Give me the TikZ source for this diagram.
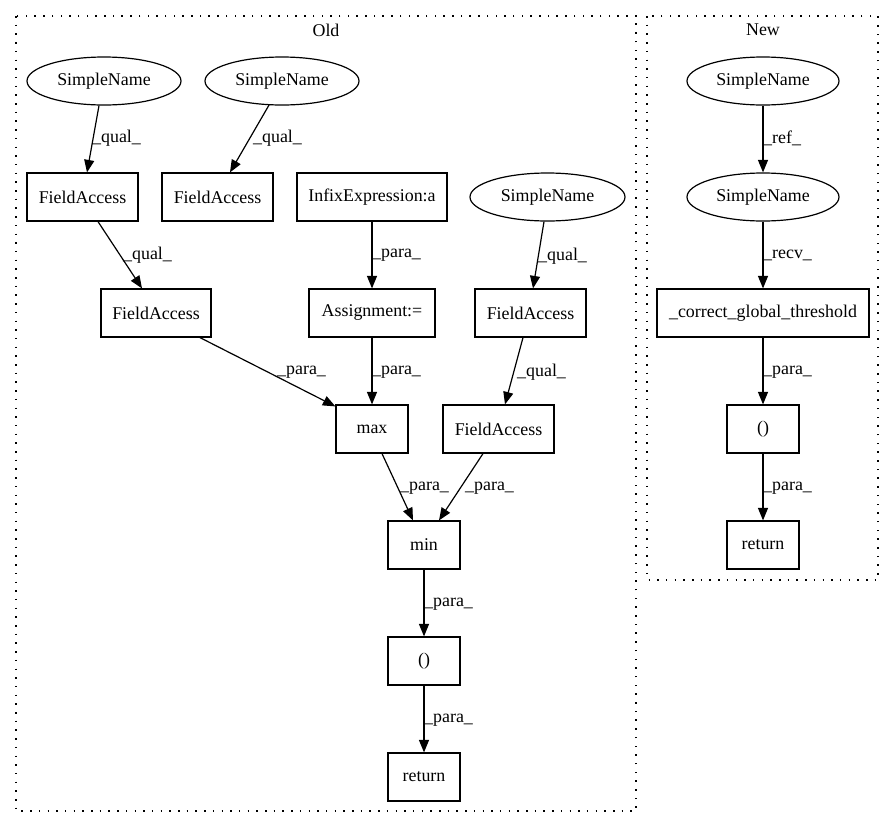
\documentclass[tikz,border=0pt]{standalone}
\usepackage{fontspec}
\setmainfont{Liberation Serif}
\usetikzlibrary{arrows.meta,shapes.geometric,calc}
\begin{document}
\begin{tikzpicture}[x=1pt,y=-1pt,
  every node/.style={font=\fontsize{17.9}{20}\selectfont},
  box/.style={draw,line width=1.2pt,rectangle,minimum height=48pt,inner sep=0pt},
  ell/.style={draw,line width=1.2pt,ellipse,minimum width=154pt,minimum height=48pt,inner sep=0pt},
  arr/.style={line width=1.2pt,-{Triangle[length=12.5pt,width=10pt]}},
  lab/.style={anchor=west,inner sep=0pt},
  clus/.style={line width=1.3pt,dash pattern=on 1.5pt off 7.2pt}]
\useasboundingbox (0,0) rectangle (895,828);
% clusters
\draw[clus] (16,16) rectangle (636,811);
\draw[clus] (647,16) rectangle (878,580);
\node (oldt) at (326,30) {Old};
\node (newt) at (763,30) {New};
% Old nodes
\node[ell] (sn1) at (104,81) {SimpleName};
\node[ell] (sn2) at (282,81) {SimpleName};
\node[box,minimum width=111pt] (fa1) at (82.5,197) {FieldAccess};
\node[box,minimum width=111pt] (fa2) at (217.5,197) {FieldAccess};
\node[box,minimum width=150pt] (infix) at (372,197) {InfixExpression:a};
\node[ell,minimum width=155pt] (sn3) at (547.5,197) {SimpleName};
\node[box,minimum width=110pt] (fa3) at (156,313) {FieldAccess};
\node[box,minimum width=126pt] (assign) at (372,313) {Assignment:=};
\node[box,minimum width=111pt] (fa4) at (530.5,313) {FieldAccess};
\node[box,minimum width=72pt] (max) at (372,429) {max};
\node[box,minimum width=111pt] (fa5) at (498.5,429) {FieldAccess};
\node[box,minimum width=72pt] (min) at (424,545) {min};
\node[box,minimum width=72pt] (par) at (424,661) {()};
\node[box,minimum width=72pt] (ret) at (424,777) {return};
% New nodes
\node[ell,minimum width=152pt] (nsn1) at (763,81) {SimpleName};
\node[ell,minimum width=152pt] (nsn2) at (763,197) {SimpleName};
\node[box,minimum width=212pt] (corr) at (763,313) {\_correct\_global\_threshold};
\node[box,minimum width=72pt] (npar) at (763,429) {()};
\node[box,minimum width=72pt] (nret) at (763,545) {return};
% Old edges
\draw[arr] ($(sn1.south)+(-5,0)$) -- ($(fa1.north)+(4.5,0)$);
\draw[arr] ($(sn2.south)+(-13,-0.5)$) -- ($(fa2.north)+(12.5,0)$);
\draw[arr] ($(fa1.south)+(15.5,0)$) -- ($(fa3.north)+(-14,0)$);
\draw[arr] (infix) -- (assign);
\draw[arr] ($(sn3.south)+(-3.5,0)$) -- ($(fa4.north)+(2.5,0)$);
\draw[arr] ($(fa3.south)+(44,0)$) -- ($(max.north west)+(0,2)$);
\draw[arr] (assign) -- (max);
\draw[arr] ($(fa4.south)+(-7.5,0)$) -- ($(fa5.north)+(6.5,0)$);
\draw[arr] ($(max.south)+(10,0)$) -- ($(min.north)+(-11,0)$);
\draw[arr] ($(fa5.south)+(-15.5,0)$) -- ($(min.north)+(15,0)$);
\draw[arr] (min) -- (par);
\draw[arr] (par) -- (ret);
% New edges
\draw[arr] (nsn1) -- (nsn2);
\draw[arr] (nsn2) -- (corr);
\draw[arr] (corr) -- (npar);
\draw[arr] (npar) -- (nret);
% labels
\node[lab] (l1) at (92,138) {\_qual\_};
\node[lab] (l2) at (253,138) {\_qual\_};
\node[lab] (l3) at (123,255) {\_qual\_};
\node[lab] (l4) at (372,255) {\_para\_};
\node[lab] (l5) at (538,256) {\_qual\_};
\node[lab] (l6) at (277,372) {\_para\_};
\node[lab] (l7) at (372,372) {\_para\_};
\node[lab] (l8) at (517,372) {\_qual\_};
\node[lab] (l9) at (400,488) {\_para\_};
\node[lab] (l10) at (465,488) {\_para\_};
\node[lab] (l11) at (424,604) {\_para\_};
\node[lab] (l12) at (424,720) {\_para\_};
\node[lab] (l13) at (763,138) {\_ref\_};
\node[lab] (l14) at (763,255) {\_recv\_};
\node[lab] (l15) at (763,372) {\_para\_};
\node[lab] (l16) at (763,488) {\_para\_};
\end{tikzpicture}
\end{document}
